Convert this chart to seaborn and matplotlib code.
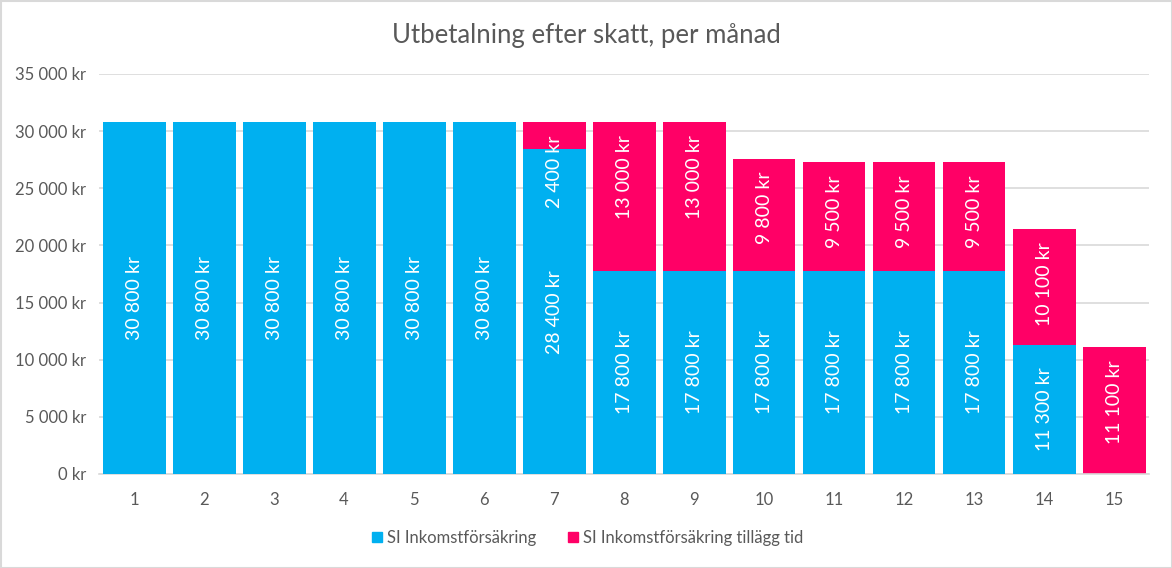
import matplotlib
matplotlib.use("Agg")
import matplotlib.pyplot as plt
from matplotlib.patches import Rectangle
from matplotlib.lines import Line2D
from matplotlib.ticker import FuncFormatter, MultipleLocator
import seaborn as sns
import pandas as pd

months = [str(i) for i in range(1, 16)]
base_values = [30800, 30800, 30800, 30800, 30800, 30800, 28400, 17800, 17800,
               17800, 17800, 17800, 17800, 11300, 0]
extra_values = [0, 0, 0, 0, 0, 0, 2400, 13000, 13000, 9800, 9500, 9500, 9500,
                10100, 11100]
series_names = ["SI Inkomstförsäkring", "SI Inkomstförsäkring tillägg tid"]
title = "Utbetalning efter skatt, per månad"

BLUE = "#00B0F0"
PINK = "#FF0066"
GRAY_TEXT = "#595959"
GRID = "#D9D9D9"

sns.set_theme(style="white")
plt.rcParams['font.family'] = ['Lato', 'DejaVu Sans']

df = pd.DataFrame({
    "month": months,
    "base": base_values,
    "extra": extra_values,
})
df["total"] = df["base"] + df["extra"]

def fmt_kr(v):
    s = f"{int(round(v)):,}".replace(",", " ")
    return f"{s} kr"

fig = plt.figure(figsize=(11.72, 5.68), dpi=100)
ax = fig.add_axes([99 / 1172, (568 - 474) / 568, (1149 - 99) / 1172, (474 - 74) / 568])

sns.barplot(data=df, x="month", y="total", color=PINK, saturation=1, width=0.9,
            ax=ax, zorder=2, linewidth=0)
sns.barplot(data=df, x="month", y="base", color=BLUE, saturation=1, width=0.9,
            ax=ax, zorder=3, linewidth=0)

ax.set_ylim(0, 35000)
ax.set_xlim(-0.5, len(months) - 0.5)
ax.yaxis.set_major_locator(MultipleLocator(5000))
ax.yaxis.set_major_formatter(FuncFormatter(lambda v, p: fmt_kr(v)))
ax.grid(axis="y", color=GRID, linewidth=1.2, zorder=0)
ax.set_axisbelow(True)
for side in ["top", "right", "left"]:
    ax.spines[side].set_visible(False)
ax.spines["bottom"].set_color(GRID)
ax.spines["bottom"].set_linewidth(1.2)
ax.tick_params(axis="both", length=0, colors=GRAY_TEXT, labelsize=12)
ax.tick_params(axis="x", pad=13)
ax.tick_params(axis="y", pad=9)
ax.set_xlabel("")
ax.set_ylabel("")

for i, (b, e) in enumerate(zip(base_values, extra_values)):
    if b > 0:
        ax.text(i, b / 2, fmt_kr(b), rotation=90, ha="center", va="center",
                color="white", fontsize=14, zorder=5)
    if e > 0:
        ax.annotate(fmt_kr(e), xy=(i, b + e), xytext=(0, -9.5), textcoords="offset points",
                    rotation=90, ha="center", va="top", color="white", fontsize=14,
                    zorder=5)

fig.text(0.5, 1 - 35 / 568, title, ha="center", va="center", fontsize=18.5,
         color=GRAY_TEXT)

handles = [Line2D([0], [0], marker="s", linestyle="none", markersize=7,
                  markerfacecolor=c, markeredgecolor=c) for c in (BLUE, PINK)]
fig.legend(handles, series_names, loc="center", bbox_to_anchor=(0.5, 1 - 538 / 568),
           ncol=2, frameon=False, fontsize=12, labelcolor=GRAY_TEXT,
           handletextpad=0.1, columnspacing=1.7, handlelength=1.0)

fig.patches.append(Rectangle((0.5 / 1172, 0.5 / 568), 1 - 1 / 1172, 1 - 1 / 568,
                             transform=fig.transFigure, fill=False,
                             edgecolor=GRID, linewidth=1.5))

fig.savefig("out.png", dpi=100)
